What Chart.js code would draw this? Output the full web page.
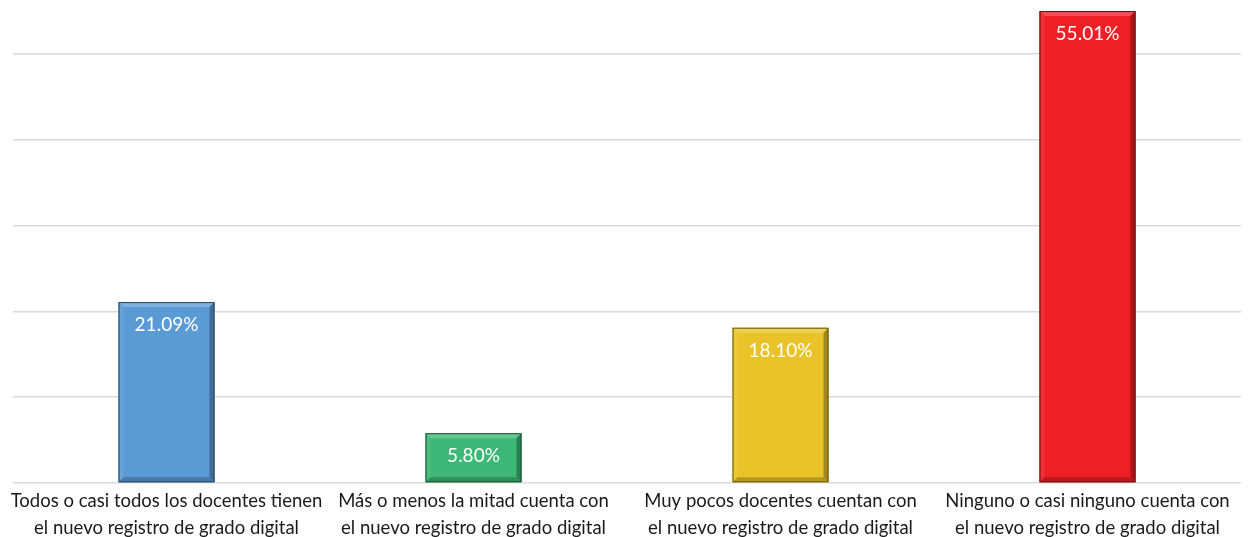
<!DOCTYPE html>
<html><head><meta charset="utf-8">
<script src="https://cdn.jsdelivr.net/npm/chart.js@4"></script>
<style>html,body{margin:0;padding:0;background:#fff;}#wrap{width:1249px;height:537px;position:relative;}</style>
</head><body><div id="wrap"><canvas id="c" width="1249" height="537"></canvas></div>
<script>
const categories = [
  ["Todos o casi todos los docentes tienen", "el nuevo registro de grado digital"],
  ["Más o menos la mitad cuenta con", "el nuevo registro de grado digital"],
  ["Muy pocos docentes cuentan con", "el nuevo registro de grado digital"],
  ["Ninguno o casi ninguno cuenta con", "el nuevo registro de grado digital"]
];
const values = [21.09, 5.80, 18.10, 55.01];
const valueLabels = ["21.09%", "5.80%", "18.10%", "55.01%"];
const barColors = ["#5B9BD5", "#3CB775", "#E9C327", "#EE1F25"];

function shade(hex, f){
  const n=parseInt(hex.slice(1),16);let r=n>>16,g=(n>>8)&255,b=n&255;
  if(f>0){r+= (255-r)*f;g+=(255-g)*f;b+=(255-b)*f;}else{r*=1+f;g*=1+f;b*=1+f;}
  return `rgb(${Math.round(r)},${Math.round(g)},${Math.round(b)})`;
}

const bevel = {
  id:'bevel',
  afterDatasetsDraw(chart){
    const ctx=chart.ctx;
    chart.getDatasetMeta(0).data.forEach((el,i)=>{
      const c=barColors[i];
      const l=el.x-el.width/2, r=el.x+el.width/2, t=el.y, b=el.base, d=5;
      ctx.save();
      ctx.fillStyle=shade(c,0.22);
      ctx.beginPath();ctx.moveTo(l,t);ctx.lineTo(r,t);ctx.lineTo(r-d,t+d);ctx.lineTo(l+d,t+d);ctx.closePath();ctx.fill();
      ctx.fillStyle=shade(c,0.08);
      ctx.beginPath();ctx.moveTo(l,t);ctx.lineTo(l+d,t+d);ctx.lineTo(l+d,b-d);ctx.lineTo(l,b);ctx.closePath();ctx.fill();
      ctx.fillStyle=shade(c,-0.3);
      ctx.beginPath();ctx.moveTo(r,t);ctx.lineTo(r,b);ctx.lineTo(r-d,b-d);ctx.lineTo(r-d,t+d);ctx.closePath();ctx.fill();
      ctx.fillStyle=shade(c,-0.22);
      ctx.beginPath();ctx.moveTo(l,b);ctx.lineTo(r,b);ctx.lineTo(r-d,b-d);ctx.lineTo(l+d,b-d);ctx.closePath();ctx.fill();
      ctx.strokeStyle=shade(c,-0.55);ctx.lineWidth=1;
      ctx.strokeRect(l+0.5,t+0.5,el.width-1,b-t-1);
      ctx.fillStyle='#fff';
      ctx.font='19px Lato, "Noto Sans", sans-serif';
      ctx.textAlign='center';ctx.textBaseline='middle';
      ctx.fillText(valueLabels[i], el.x, t+23);
      ctx.restore();
    });
  }
};

new Chart(document.getElementById('c'), {
  type:'bar',
  data:{labels:categories,datasets:[{data:values,backgroundColor:barColors,borderWidth:0,barPercentage:0.625,categoryPercentage:0.5}]},
  options:{
    responsive:false,animation:false,
    layout:{padding:{left:13,right:8,top:0,bottom:0}},
    plugins:{legend:{display:false},tooltip:{enabled:false}},
    scales:{
      x:{grid:{display:false},border:{display:false},
         ticks:{color:'#1a1a1a',font:{family:'Lato, sans-serif',size:18.5,lineHeight:1.45},padding:-3,maxRotation:0,autoSkip:false},
         afterFit(s){s.height=54;s.paddingLeft=0;s.paddingRight=0;}},
      y:{min:0,max:56.3,
         ticks:{display:false,stepSize:10},
         border:{display:false},
         grid:{color:(c)=> (c.tick && Math.abs(c.tick.value%10)<1e-6) ? '#d9d9d9' : 'rgba(0,0,0,0)',lineWidth:1.5,drawTicks:false},
         afterFit(s){s.width=0;}}
    }
  },
  plugins:[bevel]
});
</script></body></html>
